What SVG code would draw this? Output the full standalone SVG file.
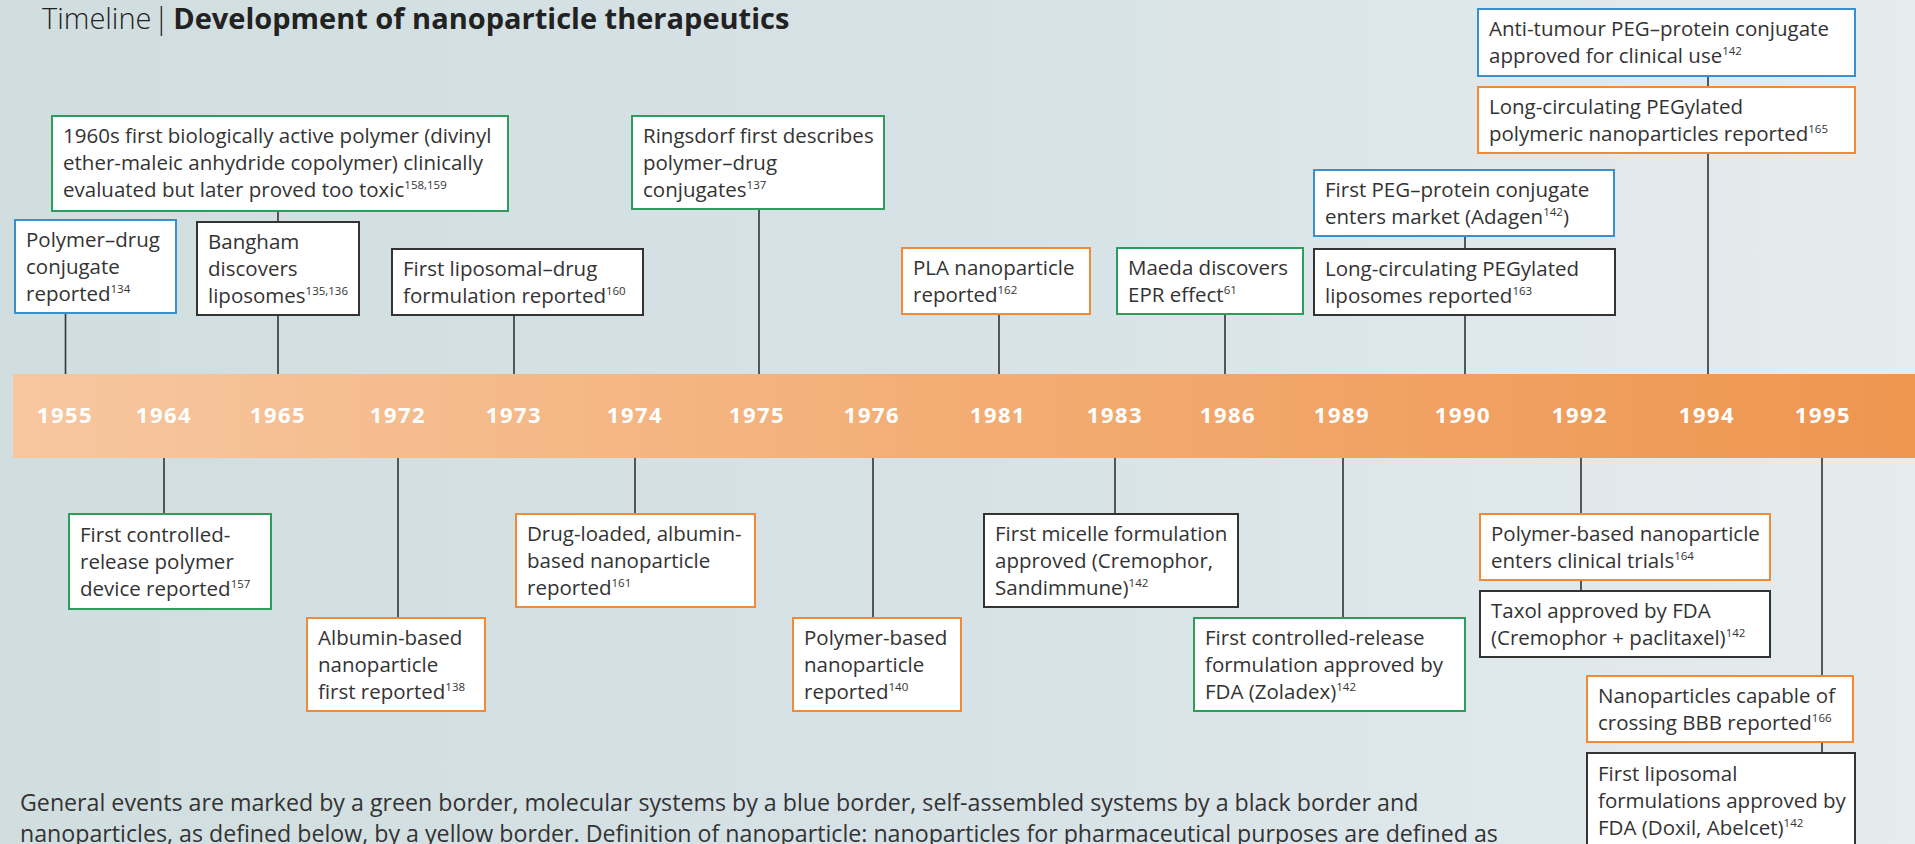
<svg xmlns="http://www.w3.org/2000/svg" width="1915" height="844" viewBox="0 0 1915 844">
<defs>
<linearGradient id="bg" x1="0" y1="0" x2="1" y2="0">
<stop offset="0" stop-color="#d1dedf"/>
<stop offset="0.5" stop-color="#d6e2e6"/>
<stop offset="1" stop-color="#e6ecee"/>
</linearGradient>
<linearGradient id="bar" x1="0" y1="0" x2="1" y2="0">
<stop offset="0" stop-color="#f7c7a0"/>
<stop offset="0.5" stop-color="#f3ad74"/>
<stop offset="1" stop-color="#ee9650"/>
</linearGradient>
<style>
.box{fill:#fff;stroke-width:2}
.g{stroke:#2f9c5c}
.b{stroke:#3a8fcf}
.o{stroke:#f08a37}
.k{stroke:#333}
.t{font-family:"Open Sans","DejaVu Sans",sans-serif;font-size:20.5px;fill:#333}
.s{font-size:11.5px}
.yr{font-family:"Open Sans","DejaVu Sans",sans-serif;font-size:22px;font-weight:700;fill:#fff;letter-spacing:1.5px;text-anchor:middle}
#connectors line{stroke:#333;stroke-width:1.6}
</style>
</defs>
<rect width="1915" height="844" fill="url(#bg)"/>
<text x="42" y="29" font-family="'Open Sans','DejaVu Sans',sans-serif" font-size="29" fill="#222"><tspan font-weight="300">Timeline</tspan><tspan font-weight="300" dx="2">|</tspan><tspan font-weight="700" dx="4">Development of nanoparticle therapeutics</tspan></text>
<g id="timeline-bar">
<rect x="13" y="374" width="1902" height="84" fill="url(#bar)"/>
<text class="yr" x="65" y="423">1955</text>
<text class="yr" x="164" y="423">1964</text>
<text class="yr" x="278" y="423">1965</text>
<text class="yr" x="398" y="423">1972</text>
<text class="yr" x="514" y="423">1973</text>
<text class="yr" x="635" y="423">1974</text>
<text class="yr" x="757" y="423">1975</text>
<text class="yr" x="872" y="423">1976</text>
<text class="yr" x="998" y="423">1981</text>
<text class="yr" x="1115" y="423">1983</text>
<text class="yr" x="1228" y="423">1986</text>
<text class="yr" x="1342" y="423">1989</text>
<text class="yr" x="1463" y="423">1990</text>
<text class="yr" x="1580" y="423">1992</text>
<text class="yr" x="1707" y="423">1994</text>
<text class="yr" x="1823" y="423">1995</text>
</g>
<g id="connectors">
<line x1="65.5" y1="313" x2="65.5" y2="374"/>
<line x1="278" y1="211" x2="278" y2="222"/>
<line x1="278" y1="315" x2="278" y2="374"/>
<line x1="514" y1="315" x2="514" y2="374"/>
<line x1="759" y1="209" x2="759" y2="374"/>
<line x1="999" y1="314" x2="999" y2="374"/>
<line x1="1225" y1="314" x2="1225" y2="374"/>
<line x1="1465" y1="236" x2="1465" y2="249"/>
<line x1="1465" y1="315" x2="1465" y2="374"/>
<line x1="1708" y1="76" x2="1708" y2="87"/>
<line x1="1708" y1="153" x2="1708" y2="374"/>
<line x1="164" y1="458" x2="164" y2="514"/>
<line x1="398" y1="458" x2="398" y2="618"/>
<line x1="635" y1="458" x2="635" y2="514"/>
<line x1="873" y1="458" x2="873" y2="618"/>
<line x1="1115" y1="458" x2="1115" y2="514"/>
<line x1="1343" y1="458" x2="1343" y2="618"/>
<line x1="1581" y1="458" x2="1581" y2="514"/>
<line x1="1581" y1="580" x2="1581" y2="591"/>
<line x1="1822" y1="458" x2="1822" y2="676"/>
<line x1="1822" y1="742" x2="1822" y2="753"/>
</g>
<g id="n1960s"><rect class="box g" x="52" y="116" width="456" height="95"/>
<text class="t" x="63" y="143">1960s first biologically active polymer (divinyl</text>
<text class="t" x="63" y="170">ether-maleic anhydride copolymer) clinically</text>
<text class="t" x="63" y="197">evaluated but later proved too toxic<tspan class="s" dy="-8">158,159</tspan></text></g>
<g id="nRingsdorf"><rect class="box g" x="632" y="116" width="252" height="93"/>
<text class="t" x="643" y="143">Ringsdorf first describes</text>
<text class="t" x="643" y="170">polymer–drug</text>
<text class="t" x="643" y="197">conjugates<tspan class="s" dy="-8">137</tspan></text></g>
<g id="nPolymerDrug"><rect class="box b" x="15" y="220" width="161" height="93"/>
<text class="t" x="26" y="247">Polymer–drug</text>
<text class="t" x="26" y="274">conjugate</text>
<text class="t" x="26" y="301">reported<tspan class="s" dy="-8">134</tspan></text></g>
<g id="nBangham"><rect class="box k" x="197" y="222" width="162" height="93"/>
<text class="t" x="208" y="249">Bangham</text>
<text class="t" x="208" y="276">discovers</text>
<text class="t" x="208" y="303">liposomes<tspan class="s" dy="-8">135,136</tspan></text></g>
<g id="nLiposomalDrug"><rect class="box k" x="392" y="249" width="251" height="66"/>
<text class="t" x="403" y="276">First liposomal–drug</text>
<text class="t" x="403" y="303">formulation reported<tspan class="s" dy="-8">160</tspan></text></g>
<g id="nPLA"><rect class="box o" x="902" y="248" width="188" height="66"/>
<text class="t" x="913" y="275">PLA nanoparticle</text>
<text class="t" x="913" y="302">reported<tspan class="s" dy="-8">162</tspan></text></g>
<g id="nMaeda"><rect class="box g" x="1117" y="248" width="186" height="66"/>
<text class="t" x="1128" y="275">Maeda discovers</text>
<text class="t" x="1128" y="302">EPR effect<tspan class="s" dy="-8">61</tspan></text></g>
<g id="nAdagen"><rect class="box b" x="1314" y="170" width="300" height="66"/>
<text class="t" x="1325" y="197">First PEG–protein conjugate</text>
<text class="t" x="1325" y="224">enters market (Adagen<tspan class="s" dy="-8">142</tspan><tspan dy="8">)</tspan></text></g>
<g id="nPEGLiposomes"><rect class="box k" x="1314" y="249" width="301" height="66"/>
<text class="t" x="1325" y="276">Long-circulating PEGylated</text>
<text class="t" x="1325" y="303">liposomes reported<tspan class="s" dy="-8">163</tspan></text></g>
<g id="nAntiTumour"><rect class="box b" x="1478" y="9" width="377" height="67"/>
<text class="t" x="1489" y="36">Anti-tumour PEG–protein conjugate</text>
<text class="t" x="1489" y="63">approved for clinical use<tspan class="s" dy="-8">142</tspan></text></g>
<g id="nPEGPolymeric"><rect class="box o" x="1478" y="87" width="377" height="66"/>
<text class="t" x="1489" y="114">Long-circulating PEGylated</text>
<text class="t" x="1489" y="141">polymeric nanoparticles reported<tspan class="s" dy="-8">165</tspan></text></g>
<g id="nControlledDevice"><rect class="box g" x="69" y="514" width="202" height="95"/>
<text class="t" x="80" y="542">First controlled-</text>
<text class="t" x="80" y="569">release polymer</text>
<text class="t" x="80" y="596">device reported<tspan class="s" dy="-8">157</tspan></text></g>
<g id="nAlbumin"><rect class="box o" x="307" y="618" width="178" height="93"/>
<text class="t" x="318" y="645">Albumin-based</text>
<text class="t" x="318" y="672">nanoparticle</text>
<text class="t" x="318" y="699">first reported<tspan class="s" dy="-8">138</tspan></text></g>
<g id="nDrugLoaded"><rect class="box o" x="516" y="514" width="239" height="93"/>
<text class="t" x="527" y="541">Drug-loaded, albumin-</text>
<text class="t" x="527" y="568">based nanoparticle</text>
<text class="t" x="527" y="595">reported<tspan class="s" dy="-8">161</tspan></text></g>
<g id="nPolymerBased"><rect class="box o" x="793" y="618" width="168" height="93"/>
<text class="t" x="804" y="645">Polymer-based</text>
<text class="t" x="804" y="672">nanoparticle</text>
<text class="t" x="804" y="699">reported<tspan class="s" dy="-8">140</tspan></text></g>
<g id="nMicelle"><rect class="box k" x="984" y="514" width="254" height="93"/>
<text class="t" x="995" y="541">First micelle formulation</text>
<text class="t" x="995" y="568">approved (Cremophor,</text>
<text class="t" x="995" y="595">Sandimmune)<tspan class="s" dy="-8">142</tspan></text></g>
<g id="nZoladex"><rect class="box g" x="1194" y="618" width="271" height="93"/>
<text class="t" x="1205" y="645">First controlled-release</text>
<text class="t" x="1205" y="672">formulation approved by</text>
<text class="t" x="1205" y="699">FDA (Zoladex)<tspan class="s" dy="-8">142</tspan></text></g>
<g id="nClinicalTrials"><rect class="box o" x="1480" y="514" width="290" height="66"/>
<text class="t" x="1491" y="541">Polymer-based nanoparticle</text>
<text class="t" x="1491" y="568">enters clinical trials<tspan class="s" dy="-8">164</tspan></text></g>
<g id="nTaxol"><rect class="box k" x="1480" y="591" width="290" height="66"/>
<text class="t" x="1491" y="618">Taxol approved by FDA</text>
<text class="t" x="1491" y="645">(Cremophor + paclitaxel)<tspan class="s" dy="-8">142</tspan></text></g>
<g id="nBBB"><rect class="box o" x="1587" y="676" width="266" height="66"/>
<text class="t" x="1598" y="703">Nanoparticles capable of</text>
<text class="t" x="1598" y="730">crossing BBB reported<tspan class="s" dy="-8">166</tspan></text></g>
<g id="nDoxil"><rect class="box k" x="1587" y="753" width="268" height="110"/>
<text class="t" x="1598" y="781">First liposomal</text>
<text class="t" x="1598" y="808">formulations approved by</text>
<text class="t" x="1598" y="835">FDA (Doxil, Abelcet)<tspan class="s" dy="-8">142</tspan></text></g>
<g id="footer">
<text class="t" x="20" y="811" style="font-size:23.2px">General events are marked by a green border, molecular systems by a blue border, self-assembled systems by a black border and</text>
<text class="t" x="20" y="842" style="font-size:23.2px">nanoparticles, as defined below, by a yellow border. Definition of nanoparticle: nanoparticles for pharmaceutical purposes are defined as</text>
</g>
</svg>
